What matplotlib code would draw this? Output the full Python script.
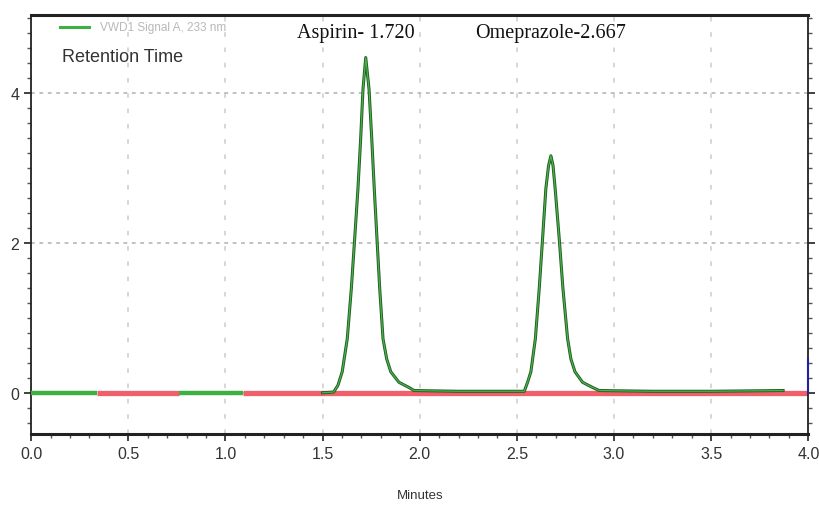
import matplotlib
matplotlib.use("Agg")
import matplotlib.pyplot as plt
from matplotlib.ticker import MultipleLocator

# detector trace (minutes, signal)
trace_t = [1.50, 1.557, 1.579, 1.601, 1.627, 1.648, 1.665, 1.682, 1.696, 1.708,
           1.722, 1.739, 1.753, 1.766, 1.780, 1.794, 1.811, 1.830, 1.851, 1.893,
           1.945, 1.971, 2.20, 2.45, 2.538, 2.555, 2.572, 2.595, 2.615, 2.632,
           2.649, 2.663, 2.675, 2.686, 2.697, 2.718, 2.737, 2.761, 2.778, 2.799,
           2.838, 2.890, 2.924, 3.20, 3.50, 3.87]
trace_y = [0.00, 0.01, 0.10, 0.28, 0.72, 1.39, 2.05, 2.72, 3.39, 4.05,
           4.47, 4.05, 3.39, 2.72, 2.05, 1.39, 0.72, 0.45, 0.28, 0.14,
           0.07, 0.03, 0.02, 0.02, 0.02, 0.14, 0.28, 0.72, 1.39, 2.05,
           2.72, 3.03, 3.16, 3.03, 2.72, 2.05, 1.39, 0.72, 0.45, 0.28,
           0.14, 0.07, 0.03, 0.02, 0.02, 0.03]

# integration baseline segments (red) and the flat signal (green) before the peaks
red_segments = [(0.34, 0.76), (1.09, 4.00)]
green_segments = [(0.00, 0.34), (0.76, 1.09)]

peak_labels = ["Aspirin- 1.720", "Omeprazole-2.667"]
label_x = [1.366, 2.284]

sans = ["Liberation Sans", "DejaVu Sans"]

fig = plt.figure(figsize=(8.19, 5.10), dpi=100)
ax = fig.add_axes([0.038, 0.147, 0.949, 0.822])

for a, b in green_segments:
    ax.plot([a, b], [0, 0], color="#3cb043", lw=3.2, solid_capstyle="butt", zorder=3)
for a, b in red_segments:
    ax.plot([a, b], [0, 0], color="#f0606a", lw=3.8, solid_capstyle="butt", zorder=2)

ax.plot(trace_t, trace_y, color="#1f5f1f", lw=2.2, zorder=4)
ax.plot(trace_t, trace_y, color="#4caf50", lw=0.9, zorder=5)
ax.plot([4.0, 4.0], [0, 0.45], color="#2020a0", lw=1.5, zorder=6, clip_on=False)

for lx, text in zip(label_x, peak_labels):
    ax.text(lx, 4.80, text, family="Liberation Serif", fontsize=14.5,
            color="#111111", va="center", ha="left")

ax.plot([0.15, 0.30], [4.88, 4.88], color="#3cb043", lw=2.2)
ax.text(0.356, 4.88, "VWD1 Signal A, 233 nm", family=sans, fontsize=8.5,
        color="#b8b8b8", va="center")
ax.text(0.16, 4.49, "Retention Time", family=sans, fontsize=13,
        color="#333333", va="center")

ax.set_xlim(0, 4.0)
ax.set_ylim(-0.55, 5.04)
ax.xaxis.set_minor_locator(MultipleLocator(0.1))
ax.yaxis.set_minor_locator(MultipleLocator(0.2))
ax.tick_params(axis="both", which="major", length=5, width=1.3, color="#333333",
               labelsize=11.5, labelcolor="#333333")
ax.tick_params(axis="both", which="minor", length=3, width=1, color="#555555")
ax.tick_params(axis="y", right=True, which="both")
ax.set_xticks([0.5 * i for i in range(9)])
ax.set_xticklabels([f"{0.5 * i:.1f}" for i in range(9)], family=sans)
ax.set_yticks([0, 2, 4])
ax.set_yticklabels(["0", "2", "4"], family=sans)

ax.grid(axis="x", which="major", color="#cccccc", linestyle=(0, (3, 7)), lw=1.1)
ax.grid(axis="y", which="major", color="#b0b0b0", linestyle=(0, (2.5, 3)), lw=1.1)
ax.set_axisbelow(True)

for side in ["left", "right", "bottom", "top"]:
    ax.spines[side].set_color("#222222")
    ax.spines[side].set_linewidth(1.3)
ax.spines["top"].set_linewidth(2.2)
ax.spines["bottom"].set_linewidth(2.2)

ax.set_xlabel("Minutes", family=sans, fontsize=9.5, color="#333333", labelpad=20)

fig.savefig("out.png", dpi=100)
